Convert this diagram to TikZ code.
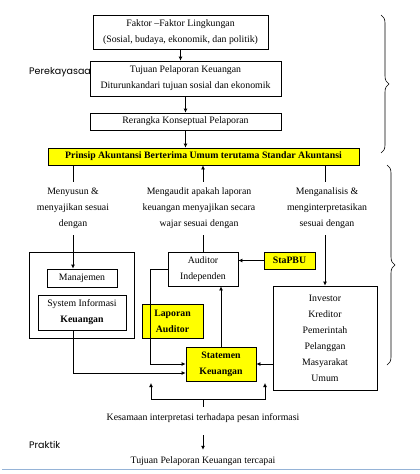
\documentclass[tikz,border=0pt]{standalone}
\usepackage{fontspec}
\setmainfont{Liberation Serif}
\newfontfamily\handfont{Poppins}
\usepackage{xcolor}
\usetikzlibrary{arrows.meta,decorations.pathreplacing}

\definecolor{boxyellow}{RGB}{255,255,0}
\definecolor{rulerblue}{RGB}{149,179,215}

\tikzset{
  box/.style={draw=black, fill=white, line width=0.8pt, align=center, inner sep=0pt,
    font=\fontsize{9.8}{16}\selectfont},
  hibox/.style={box, fill=boxyellow, font=\fontsize{9.8}{16}\selectfont\bfseries},
  note/.style={align=center, inner sep=0pt, font=\fontsize{9.8}{16}\selectfont},
  side/.style={inner sep=0pt, font=\handfont\fontsize{9.5}{11}\selectfont},
  flow/.style={line width=0.8pt, -{Latex[length=4pt,width=4pt]}},
  wire/.style={line width=0.8pt},
  bracer/.style={decorate, decoration={brace, amplitude=8pt}, line width=0.6pt}
}

\begin{document}
\begin{tikzpicture}[x=1pt, y=-1pt]
  \useasboundingbox (0,0) rectangle (420,474);

  \node[side, anchor=west] (rekayasa) at (29,72) {Perekayasaa};

  % upper chain %
  \node[box, minimum width=175, minimum height=34] (faktor) at (180.5,32)
    {Faktor --Faktor Lingkungan\\(Sosial, budaya, ekonomik, dan politik)};
  \node[box, minimum width=191, minimum height=35] (tujuan) at (185.5,78.5)
    {Tujuan Pelaporan Keuangan\\Diturunkandari tujuan sosial dan ekonomik};
  \node[box, minimum width=191, minimum height=17] (rerangka) at (185.5,121.5)
    {Rerangka Konseptual Pelaporan};
  \node[hibox, minimum width=311, minimum height=17] (prinsip) at (203.5,156.5)
    {Prinsip Akuntansi Berterima Umum terutama Standar Akuntansi};

  \draw[flow] (faktor.south) -- (faktor.south |- tujuan.north);
  \draw[flow] (tujuan.south) -- (tujuan.south |- rerangka.north);
  \draw[flow] (rerangka.south) -- (rerangka.south |- prinsip.north);

  % three roles %
  \node[note, minimum height=53] (menyusun) at (73,208.5)
    {Menyusun \&\\menyajikan sesuai\\dengan};
  \node[note, minimum height=53] (mengaudit) at (199,208.5)
    {Mengaudit apakah laporan\\keuangan menyajikan secara\\wajar sesuai dengan};
  \node[note, minimum height=53] (menganalisis) at (327,208.5)
    {Menganalisis \&\\menginterpretasikan\\sesuai dengan};

  % boxes below %
  \node[box, minimum width=105, minimum height=86] (sistem) at (81.5,295) {};
  \node[box, minimum width=70, minimum height=18] (manajemen) at (82,278) {Manajemen};
  \node[box, minimum width=88, minimum height=35] (sik) at (82,312.5)
    {System Informasi\\\textbf{Keuangan}};
  \node[box, minimum width=70, minimum height=34] (auditor) at (203,269)
    {Auditor\\Independen};
  \node[hibox, minimum width=51, minimum height=17] (stapbu) at (289.5,260.5) {StaPBU};
  \node[hibox, minimum width=61, minimum height=34] (lapaud) at (172.5,321)
    {Laporan\\Auditor};
  \node[hibox, minimum width=70, minimum height=34] (statemen) at (221,364)
    {Statemen\\Keuangan};
  \node[box, minimum width=104, minimum height=104] (investor) at (325,338)
    {Investor\\Kreditor\\Pemerintah\\Pelanggan\\Masyarakat\\Umum};

  % role lines %
  \draw[wire] (prinsip.south -| menyusun.north) -- (menyusun.north);
  \draw[flow] (menyusun.south) -- (menyusun.south |- manajemen.north);
  \draw[flow] (auditor.north |- mengaudit.north) -- (auditor.north |- prinsip.south);
  \draw[wire] (auditor.north |- mengaudit.south) -- (auditor.north);
  \draw[wire] (prinsip.south -| investor.north) -- (investor.north |- menganalisis.north);
  \draw[flow] (investor.north |- menganalisis.south) -- (investor.north);

  % flows round the statement %
  \draw[flow] (stapbu.west) -- (stapbu.west -| auditor.east);
  \draw[flow] (statemen.north) -- (statemen.north |- auditor.south);
  \draw[flow] (auditor.west) -- ++(-17,0) |- (statemen.west);
  \draw[flow] (sik.south -| menyusun.south) |- ([yshift=-9pt]statemen.west);
  \draw[flow] (investor.west |- statemen.east) -- (statemen.east);

  % bottom %
  \node[note, minimum height=22] (kesamaan) at (203,418)
    {Kesamaan interpretasi terhadapa pesan informasi};
  \node[note, minimum height=22] (tercapai) at (203,461)
    {Tujuan Pelaporan Keuangan tercapai};
  \node[side, anchor=west] (praktik) at (29,445) {Praktik};

  \coordinate (kl) at (151,383);
  \coordinate (kr) at (265,383);
  \draw[line width=0.8pt, {Latex[length=4pt,width=4pt]}-{Latex[length=4pt,width=4pt]}]
    (kl) -- ++(0,16) -| (kr);
  \draw[wire] (kesamaan.north) -- ++(0,-8);
  \draw[flow] ([yshift=-6pt]kesamaan.south) -- (tercapai.north);

  % braces %
  \draw[bracer] (381,15) -- (381,153);
  \draw[bracer] (387,165) -- (387,365);

  \draw[rulerblue, line width=1.5pt] (2,469.5) -- (420,469.5);
\end{tikzpicture}
\end{document}
